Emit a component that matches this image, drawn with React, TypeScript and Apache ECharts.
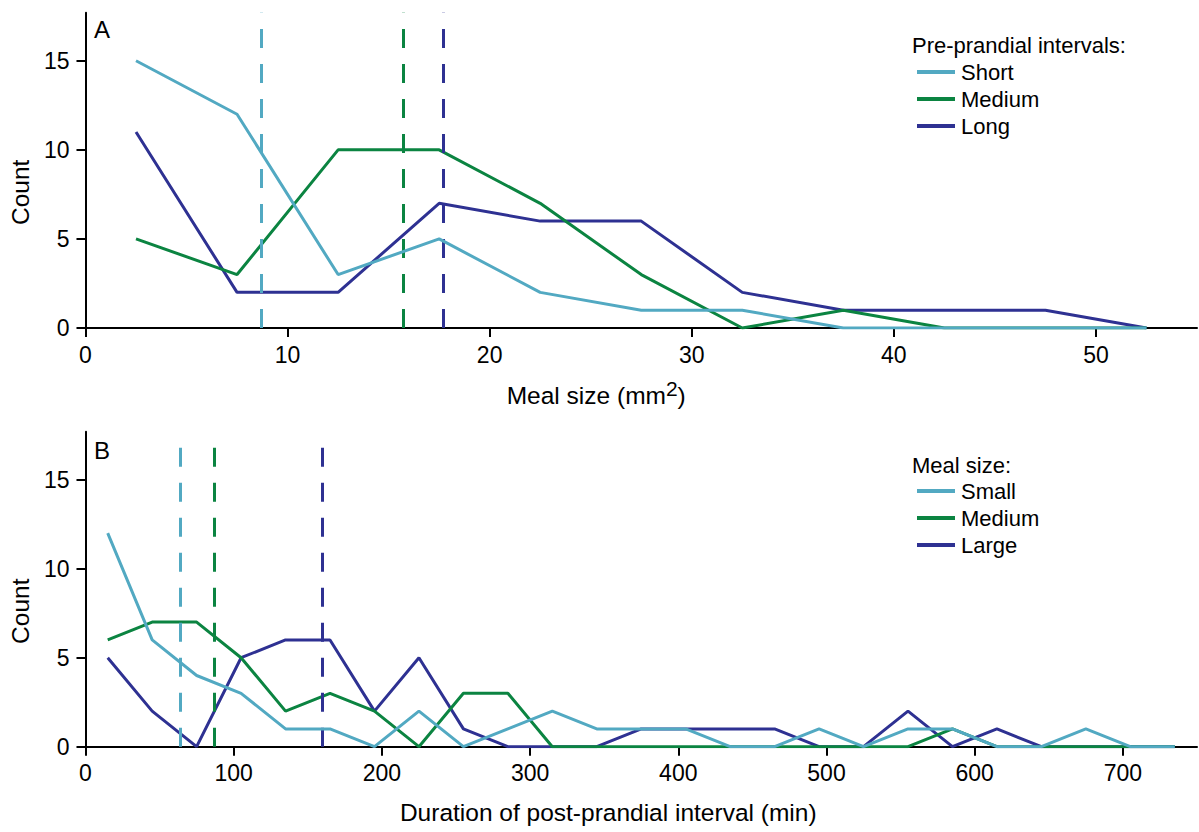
import React, { useEffect, useRef } from "react";
import * as echarts from "echarts";

// Panel A: meal size bins (mm^2), counts per pre-prandial interval
const mealSizeBins = [2.5, 7.5, 12.5, 17.5, 22.5, 27.5, 32.5, 37.5, 42.5, 47.5, 52.5];
const preShort = [15, 12, 3, 5, 2, 1, 1, 0, 0, 0, 0];
const preMedium = [5, 3, 10, 10, 7, 3, 0, 1, 0, 0, 0];
const preLong = [11, 2, 2, 7, 6, 6, 2, 1, 1, 1, 0];
const medianA = [8.7, 15.7, 17.7]; // Short, Medium, Long
const namesA = ["Short", "Medium", "Long"];

// Panel B: post-prandial interval bins (min), counts per meal size
const durationBins = [15, 45, 75, 105, 135, 165, 195, 225, 255, 285, 315, 345, 375, 405, 435, 465, 495, 525, 555, 585, 615, 645, 675, 705, 735];
const mealSmall = [12, 6, 4, 3, 1, 1, 0, 2, 0, 1, 2, 1, 1, 1, 0, 0, 1, 0, 1, 1, 0, 0, 1, 0, 0];
const mealMedium = [6, 7, 7, 5, 2, 3, 2, 0, 3, 3, 0, 0, 0, 0, 0, 0, 0, 0, 0, 1, 0, 0, 0, 0, 0];
const mealLarge = [5, 2, 0, 5, 6, 6, 2, 5, 1, 0, 0, 0, 1, 1, 1, 1, 0, 0, 2, 0, 1, 0, 0, 0, 0];
const medianB = [64, 87, 160]; // Small, Medium, Large
const namesB = ["Small", "Medium", "Large"];

const yTicks = [0, 5, 10, 15];
const xTicksA = [0, 10, 20, 30, 40, 50];
const xTicksB = [0, 100, 200, 300, 400, 500, 600, 700];

const colors = ["#52A9C2", "#0B8441", "#2E3192"];
const FONT = "Liberation Sans, Arial, Helvetica, sans-serif";

function zip(xs: number[], ys: number[]) {
  return xs.map((x, i) => [x, ys[i]]);
}

export default function App() {
  const ref = useRef<HTMLDivElement>(null);
  useEffect(() => {
    const chart = echarts.init(ref.current!, null, { renderer: "svg" });
    const axisCommon = {
      axisLine: { show: true, onZero: false, lineStyle: { color: "#000", width: 2 } },
      axisTick: { show: true, length: 9, lineStyle: { color: "#000", width: 2 } },
      splitLine: { show: false },
      axisLabel: { color: "#000", fontSize: 23, fontFamily: FONT },
    };
    const mkX = (gi: number, max: number, ticks: number[], name: string, gap: number, shift: number, rich?: any) => ({
      type: "value",
      gridIndex: gi,
      min: 0,
      max,
      name,
      nameLocation: "middle",
      nameGap: gap,
      nameTextStyle: { color: "#000", fontSize: 24.5, fontFamily: FONT, rich, padding: [0, shift, 0, 0] },
      ...axisCommon,
      axisTick: { ...axisCommon.axisTick, customValues: ticks },
      axisLabel: { ...axisCommon.axisLabel, margin: 15, customValues: ticks },
    });
    const mkY = (gi: number) => ({
      type: "value",
      gridIndex: gi,
      min: 0,
      max: 17.7,
      name: "Count",
      nameLocation: "middle",
      nameGap: 48,
      nameTextStyle: { color: "#000", fontSize: 24.5, fontFamily: FONT, padding: [0, 44, 0, 0] },
      ...axisCommon,
      axisTick: { ...axisCommon.axisTick, customValues: yTicks },
      axisLabel: { ...axisCommon.axisLabel, margin: 16, customValues: yTicks },
    });
    const mkSeries = (name: string, xs: number[], ys: number[], idx: number, gi: number, median: number) => ({
      type: "line",
      name,
      xAxisIndex: gi,
      yAxisIndex: gi,
      data: zip(xs, ys),
      showSymbol: false,
      symbol: "none",
      lineStyle: { color: colors[idx], width: 3 },
      itemStyle: { color: colors[idx] },
      z: 3 - idx + 2,
      markLine: {
        silent: true,
        symbol: "none",
        label: { show: false },
        lineStyle: { color: colors[idx], width: 3, type: [19, 16] },
        data: [{ xAxis: median }],
      },
    });
    const legendCommon = {
      orient: "vertical",
      left: 912,
      icon: "rect",
      itemWidth: 38,
      itemHeight: 4,
      itemGap: 5,
      textStyle: { color: "#000", fontSize: 22, fontFamily: FONT, padding: [0, 0, 0, 1], lineHeight: 22 },
      selectedMode: false,
    };
    chart.setOption({
      animation: false,
      textStyle: { fontFamily: FONT },
      grid: [
        { left: 84, right: 2, top: 12.7, height: 315.3 },
        { left: 84, right: 2, top: 431.7, height: 315 },
      ],
      xAxis: [
        mkX(0, 55, xTicksA, "{a|Meal size (mm}{s|2}{a|)}", 50, 90, {
          a: { fontSize: 24.5, fontFamily: FONT, color: "#000" },
          s: { fontSize: 21, fontFamily: FONT, color: "#000", verticalAlign: "top", padding: [0, 0, 14, 0] },
        }),
        mkX(1, 750, xTicksB, "Duration of post-prandial interval (min)", 53, 66),
      ],
      yAxis: [mkY(0), mkY(1)],
      legend: [
        { ...legendCommon, top: 56, data: namesA },
        { ...legendCommon, top: 475, data: namesB },
      ],
      series: [
        mkSeries(namesA[0], mealSizeBins, preShort, 0, 0, medianA[0]),
        mkSeries(namesA[1], mealSizeBins, preMedium, 1, 0, medianA[1]),
        mkSeries(namesA[2], mealSizeBins, preLong, 2, 0, medianA[2]),
        mkSeries(namesB[0], durationBins, mealSmall, 0, 1, medianB[0]),
        mkSeries(namesB[1], durationBins, mealMedium, 1, 1, medianB[1]),
        mkSeries(namesB[2], durationBins, mealLarge, 2, 1, medianB[2]),
      ],
      graphic: [
        { type: "text", left: 94, top: 17, style: { text: "A", fontSize: 24, fontFamily: FONT, fill: "#000" } },
        { type: "text", left: 94, top: 438, style: { text: "B", fontSize: 24, fontFamily: FONT, fill: "#000" } },
        { type: "text", left: 912, top: 34, style: { text: "Pre-prandial intervals:", fontSize: 22, fontFamily: FONT, fill: "#000" } },
        { type: "text", left: 912, top: 454, style: { text: "Meal size:", fontSize: 22, fontFamily: FONT, fill: "#000" } },
      ],
    });
    return () => chart.dispose();
  }, []);
  return (
    <div
      ref={ref}
      style={{ position: "fixed", left: 0, top: 0, width: 1199, height: 832, background: "#fff" }}
    />
  );
}
